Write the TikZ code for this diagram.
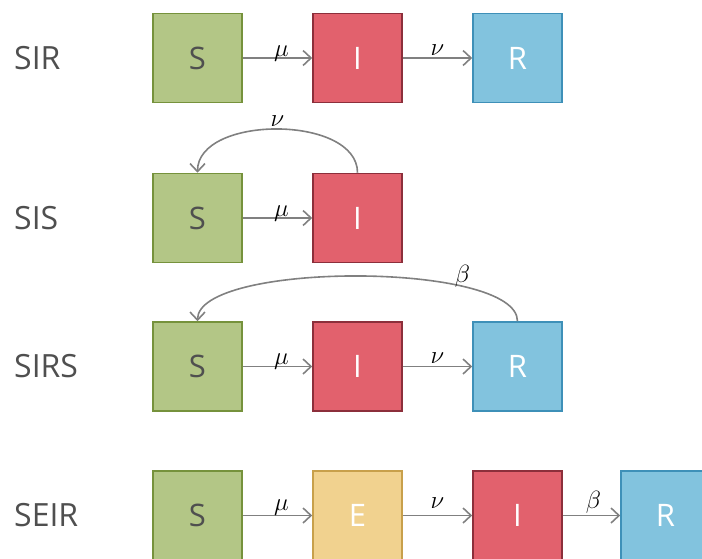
\documentclass[tikz,border=0pt]{standalone}
\usepackage{fontspec}
\setmainfont{Open Sans}
\usetikzlibrary{arrows.meta}
\definecolor{sfill}{HTML}{B3C686}
\definecolor{sdraw}{HTML}{76923C}
\definecolor{ifill}{HTML}{E2616D}
\definecolor{idraw}{HTML}{8C2F3B}
\definecolor{rfill}{HTML}{82C3DE}
\definecolor{rdraw}{HTML}{3E90B8}
\definecolor{efill}{HTML}{F1D28F}
\definecolor{edraw}{HTML}{C8A04B}
\definecolor{txt}{HTML}{4F4F4F}
\definecolor{arr}{HTML}{808080}
\tikzset{
  box/.style={minimum width=89pt,minimum height=89pt,line width=1.6pt,inner sep=0pt,
    font=\fontsize{31}{33}\selectfont},
  sbox/.style={box,fill=sfill,draw=sdraw,text=txt},
  ibox/.style={box,fill=ifill,draw=idraw,text=white},
  rbox/.style={box,fill=rfill,draw=rdraw,text=white},
  ebox/.style={box,fill=efill,draw=edraw,text=white},
  model/.style={anchor=west,text=txt,font=\fontsize{32}{34}\selectfont,inner sep=0pt},
  flow/.style={draw=arr,line width=1.6pt,-{Straight Barb[length=8pt,width=15pt]}},
  rate/.style={font=\fontsize{24}{26}\selectfont,text=black,inner sep=0pt,anchor=base},
}
\begin{document}
\begin{tikzpicture}[x=1pt,y=-1pt]
\useasboundingbox (0,0) rectangle (702,558);
\clip (0,0) rectangle (702,558);
% row 1 SIR
\node[model] (l1) at (14,58) {SIR};
\node[sbox] (s1) at (197.5,58) {S};
\node[ibox] (i1) at (357.5,58) {I};
\node[rbox] (r1) at (517.5,58) {R};
\draw[flow] (s1) -- node[rate,xshift=4pt,yshift=2pt]{$\mu$} (i1);
\draw[flow] (i1) -- node[rate,yshift=3pt]{$\nu$} (r1);
% row 2 SIS
\node[model] (l2) at (14,218) {SIS};
\node[sbox] (s2) at (197.5,218) {S};
\node[ibox] (i2) at (357.5,218) {I};
\draw[flow] (s2) -- node[rate,xshift=4pt,yshift=2pt]{$\mu$} (i2);
\draw[flow] (i2.north) .. controls +(0,-58) and +(0,-58) .. node[rate,anchor=south,pos=0.5,yshift=2pt]{$\nu$} (s2.north);
% row 3 SIRS
\node[model] (l3) at (14,366.5) {SIRS};
\node[sbox] (s3) at (197.5,366.5) {S};
\node[ibox] (i3) at (357.5,366.5) {I};
\node[rbox] (r3) at (517.5,366.5) {R};
\draw[flow] (s3) -- node[rate,xshift=4pt,yshift=2pt]{$\mu$} (i3);
\draw[flow] (i3) -- node[rate,yshift=3pt]{$\nu$} (r3);
\draw[flow] (r3.north) .. controls +(0,-60) and +(0,-60) .. node[rate,anchor=south west,pos=0.27,xshift=-6pt,yshift=-2pt]{$\beta$} (s3.north);
% row 4 SEIR
\node[model] (l4) at (14,515.5) {SEIR};
\node[sbox] (s4) at (197.5,515.5) {S};
\node[ebox] (e4) at (357.5,515.5) {E};
\node[ibox] (i4) at (517.5,515.5) {I};
\node[rbox] (r4) at (665.5,515.5) {R};
\draw[flow] (s4) -- node[rate,xshift=4pt,yshift=5pt]{$\mu$} (e4);
\draw[flow] (e4) -- node[rate,yshift=7pt]{$\nu$} (i4);
\draw[flow] (i4) -- node[rate,xshift=2pt,yshift=7pt]{$\beta$} (r4);
\end{tikzpicture}
\end{document}
